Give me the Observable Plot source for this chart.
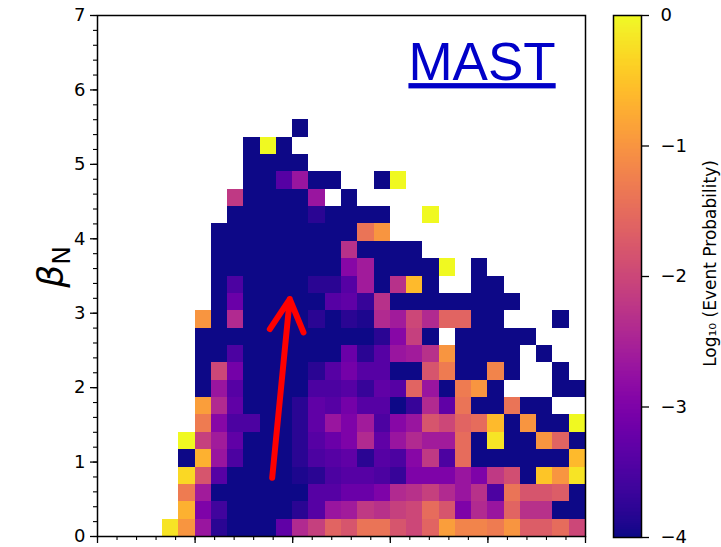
<!DOCTYPE html>
<html>
<head>
<meta charset="utf-8">
<script src="https://cdn.jsdelivr.net/npm/d3@7"></script>
<script src="https://cdn.jsdelivr.net/npm/@observablehq/plot@0.6"></script>
<style>
  html, body { margin: 0; padding: 0; background: #fff; }
  #chart { position: relative; width: 721px; height: 547px; font-family: "DejaVu Sans", sans-serif; }
  #chart > svg { position: absolute; left: 0; top: 0; overflow: visible; }
</style>
</head>
<body>
<div id="chart"></div>
<script>
const _ = null;

// ---- axis extents and bins ----
const xMax = 5;              // unlabelled horizontal axis
const betaMax = 7;           // beta_N axis
const colWidth = 1 / 6;      // 30 columns
const rowHeight = 7 / 30;    // 30 rows
const topRowIndex = 23;      // first listed row is row 23 (rows 24..29 empty)

const yTicks = [0, 1, 2, 3, 4, 5, 6, 7];
const yTickLabels = ["0", "1", "2", "3", "4", "5", "6", "7"];
const xMajorTicks = [0, 1, 2, 3, 4, 5];
const cbarTicks = [-4, -3, -2, -1, 0];
const cbarTickLabels = ["\u22124", "\u22123", "\u22122", "\u22121", "0"];

// ---- Log10(event probability) per bin, rows from top (row 23) down to row 0, columns 0..29 ----
const logProbRows = [
  [_,_,_,_,_,_, _,_,_,_,_,_, -4,_,_,_,_,_, _,_,_,_,_,_, _,_,_,_,_,_],
  [_,_,_,_,_,_, _,_,_,-4,0,-4, _,_,_,_,_,_, _,_,_,_,_,_, _,_,_,_,_,_],
  [_,_,_,_,_,_, _,_,_,-4,-4,-4, -4,_,_,_,_,_, _,_,_,_,_,_, _,_,_,_,_,_],
  [_,_,_,_,_,_, _,_,_,-4,-4,-3.4, -2.7,-4,-4,_,_,-4, 0,_,_,_,_,_, _,_,_,_,_,_],
  [_,_,_,_,_,_, _,_,-2.2,-4,-4,-4, -4,-2.7,_,-4,_,_, _,_,_,_,_,_, _,_,_,_,_,_],
  [_,_,_,_,_,_, _,_,-4,-4,-4,-4, -4,-3.8,-4,-4,-4,-4, _,_,0,_,_,_, _,_,_,_,_,_],
  [_,_,_,_,_,_, _,-4,-4,-4,-4,-4, -4,-4,-4,-4,-1.4,-1.0, _,_,_,_,_,_, _,_,_,_,_,_],
  [_,_,_,_,_,_, _,-4,-4,-4,-4,-4, -4,-4,-4,-2.3,-4,-4, -4,-4,_,_,_,_, _,_,_,_,_,_],
  [_,_,_,_,_,_, _,-4,-4,-4,-4,-4, -4,-4,-4,-2.9,-2.6,-4, -4,-4,-4,0,_,-4, _,_,_,_,_,_],
  [_,_,_,_,_,_, _,-4,-3.5,-4,-4,-4, -4,-3.8,-3.8,-3.4,-2.6,-4, -2.3,-0.6,-4,_,_,-4, -4,_,_,_,_,_],
  [_,_,_,_,_,_, _,-4,-3.2,-4,-4,-4, -4,-4,-3.4,-3.3,-3.7,-2.3, -4,-4,-4,-4,-4,-4, -4,-4,_,_,_,_],
  [_,_,_,_,_,_, -1.0,-4,-2.4,-4,-4,-4, -4,-3.8,-4,-3.8,-3.9,-2.4, -2.6,-2.0,-2.4,-1.6,-1.6,-4, -4,_,_,_,-4,_],
  [_,_,_,_,_,_, -4,-4,-4,-4,-4,-4, -4,-4,-4,-4,-4,-3.8, -2.9,-2.1,-4,_,-4,-4, -4,-4,-4,_,_,_],
  [_,_,_,_,_,_, -4,-4,-3.5,-4,-4,-4, -4,-4,-4,-3.2,-3.8,-3.4, -2.7,-2.6,-2.3,-1.0,-4,-4, -4,-4,_,-4,_,_],
  [_,_,_,_,_,_, -4,-2.0,-3.1,-4,-4,-4, -4,-3.8,-3.4,-3.1,-3.4,-3.4, -4,-4,-1.8,-1.3,-4,-4, -1.2,-4,_,_,-4,_],
  [_,_,_,_,_,_, -4,-2.7,-3.4,-4,-4,-4, -4,-3.5,-3.5,-3.4,-3.7,-3.3, -3.4,-1.6,-2.7,-4,-1.3,-1.0, -4,_,_,_,-4,-4],
  [_,_,_,_,_,_, -0.9,-2.4,-3.3,-4,-4,-4, -3.8,-3.3,-3.4,-3.1,-3.4,-3.4, -4,-3.7,-2.4,-3.3,-1.4,-4, -4,-1.4,-4,-4,_,_],
  [_,_,_,_,_,_, -1.3,-2.9,-3.5,-3.5,-4,-4, -3.8,-3.3,-2.7,-3.0,-2.6,-3.5, -2.9,-2.7,-1.8,-2.0,-1.6,-1.5, -0.6,-4,-1.0,-4,-4,0],
  [_,_,_,_,_,0, -2.1,-2.6,-3.3,-4,-4,-4, -3.8,-3.4,-3.2,-3.0,-2.4,-3.3, -2.7,-2.4,-2.6,-2.6,-1.5,-4, -0.2,-4,-4,-1.0,-1.6,-4],
  [_,_,_,_,_,-4, -0.7,-2.7,-3.5,-4,-4,-4, -3.8,-3.5,-3.4,-3.3,-3.8,-3.4, -3.5,-2.9,-2.2,-3.5,-1.5,-4, -4,-4,-4,-4,-4,-0.6],
  [_,_,_,_,_,-0.3, -1.8,-3.4,-4,-4,-4,-4, -3.9,-3.8,-3.5,-3.4,-3.4,-3.5, -3.7,-3.0,-3.0,-3.0,-2.7,-3.0, -2.2,-1.9,-4,-0.5,-1.0,-0.2],
  [_,_,_,_,_,-1.3, -2.6,-4,-4,-4,-4,-4, -4,-3.4,-3.4,-3.2,-3.2,-3.0, -2.4,-2.3,-2.1,-2.4,-2.7,-2.3, -3.5,-1.4,-1.8,-1.8,-1.7,-4],
  [_,_,_,_,_,-0.7, -3.0,-3.6,-4,-4,-4,-4, -3.8,-3.4,-2.7,-2.6,-2.2,-2.3, -2.1,-2.0,-1.5,-1.8,-3.0,-2.4, -2.7,-1.6,-2.3,-2.3,-4,-4],
  [_,_,_,_,-0.2,-1.0, -2.7,-3.8,-4,-4,-4,-3.3, -2.4,-2.1,-1.6,-1.8,-1.4,-1.4, -1.8,-2.0,-1.6,-0.9,-1.2,-1.2, -1.3,-1.0,-1.7,-1.7,-1.5,-2.0]
];

// ---- annotation: red arrow (data coordinates) ----
const arrowTail = {x: 1.79, y: 0.79};
const arrowTip = {x: 1.97, y: 3.19};
const tagText = "MAST";
const tagPos = {x: 3.94, y: 6.36};

// ---- build table ----
const cells = [];
logProbRows.forEach((row, i) => {
  const r = topRowIndex - i;
  row.forEach((v, c) => {
    if (v === null) return;
    cells.push({x1: c * colWidth, x2: (c + 1) * colWidth, y1: r * rowHeight, y2: (r + 1) * rowHeight, v});
  });
});

const W = 721, H = 547;
const color = {type: "linear", scheme: "plasma", domain: [-4, 0], clamp: true};
const baseStyle = {fontFamily: "DejaVu Sans, sans-serif", fontSize: "18px", color: "black", background: "transparent", overflow: "visible"};

const main = Plot.plot({
  width: W, height: H,
  marginLeft: 97, marginRight: W - 585, marginTop: 15, marginBottom: H - 536,
  x: {domain: [0, xMax]},
  y: {domain: [0, betaMax]},
  color,
  style: baseStyle,
  marks: [
    Plot.rect(cells, {x1: "x1", x2: "x2", y1: "y1", y2: "y2", fill: "v", shapeRendering: "crispEdges"}),
    Plot.axisX({ticks: xMajorTicks, tickSize: 7, tickFormat: () => "", label: null, strokeWidth: 1.3}),
    Plot.axisX({ticks: d3.range(0, xMax + 0.001, 0.2), tickSize: 4, tickFormat: () => "", label: null, strokeWidth: 1.1}),
    Plot.axisY({ticks: yTicks, tickSize: 7, tickPadding: 5, fontSize: 18, label: null, strokeWidth: 1.3,
      tickFormat: d => yTickLabels[yTicks.indexOf(d)]}),
    Plot.axisY({ticks: d3.range(0, betaMax + 0.001, 0.2), tickSize: 4, tickFormat: () => "", label: null, strokeWidth: 1.1}),
    Plot.frame({stroke: "black", strokeWidth: 1.5}),
    Plot.arrow([{tail: arrowTail, tip: arrowTip}], {
      x1: d => d.tail.x, y1: d => d.tail.y, x2: d => d.tip.x, y2: d => d.tip.y,
      stroke: "#ff0000", strokeWidth: 6, headLength: 9, headAngle: 56, strokeLinejoin: "round"
    }),
    Plot.text([tagText], {x: tagPos.x, y: tagPos.y, text: d => d, fontSize: 53,
      fontFamily: "Liberation Sans, Arial, sans-serif", fill: "#0000c8"})
  ]
});

// underline the tag
d3.select(main).selectAll("text").filter(function () { return this.textContent === tagText; })
  .style("text-decoration", "underline");

// y label: beta_N
const lab = d3.select(main).append("text")
  .attr("transform", "translate(63,267) rotate(-90)")
  .attr("text-anchor", "middle")
  .attr("font-family", "DejaVu Sans, sans-serif")
  .attr("fill", "black");
lab.append("tspan").attr("font-size", 36).attr("font-style", "italic").text("\u03B2");
lab.append("tspan").attr("font-size", 25).attr("dy", 7).text("N");

// ---- colorbar ----
const strips = d3.range(400).map(i => ({x1: 0, x2: 1, y1: -4 + i / 100, y2: -4 + (i + 1) / 100, v: -4 + (i + 0.5) / 100}));
const cbar = Plot.plot({
  width: W, height: H,
  marginLeft: 613, marginRight: W - 641, marginTop: 15, marginBottom: H - 537,
  x: {domain: [0, 1], axis: null},
  y: {domain: [-4, 0]},
  color,
  style: baseStyle,
  marks: [
    Plot.rect(strips, {x1: "x1", x2: "x2", y1: "y1", y2: "y2", fill: "v", shapeRendering: "crispEdges"}),
    Plot.frame({stroke: "black", strokeWidth: 1.5}),
    Plot.axisY({anchor: "right", ticks: cbarTicks, tickSize: 7, tickPadding: 12, fontSize: 18, label: null,
      strokeWidth: 1.3, tickFormat: d => cbarTickLabels[cbarTicks.indexOf(d)]}),
    Plot.text(["Log\u2081\u2080 (Event Probability)"], {frameAnchor: "right", dx: 69, dy: -13, rotate: -90,
      textAnchor: "middle", fontSize: 17, text: d => d})
  ]
});

const host = document.getElementById("chart");
host.appendChild(main);
host.appendChild(cbar);
</script>
</body>
</html>
